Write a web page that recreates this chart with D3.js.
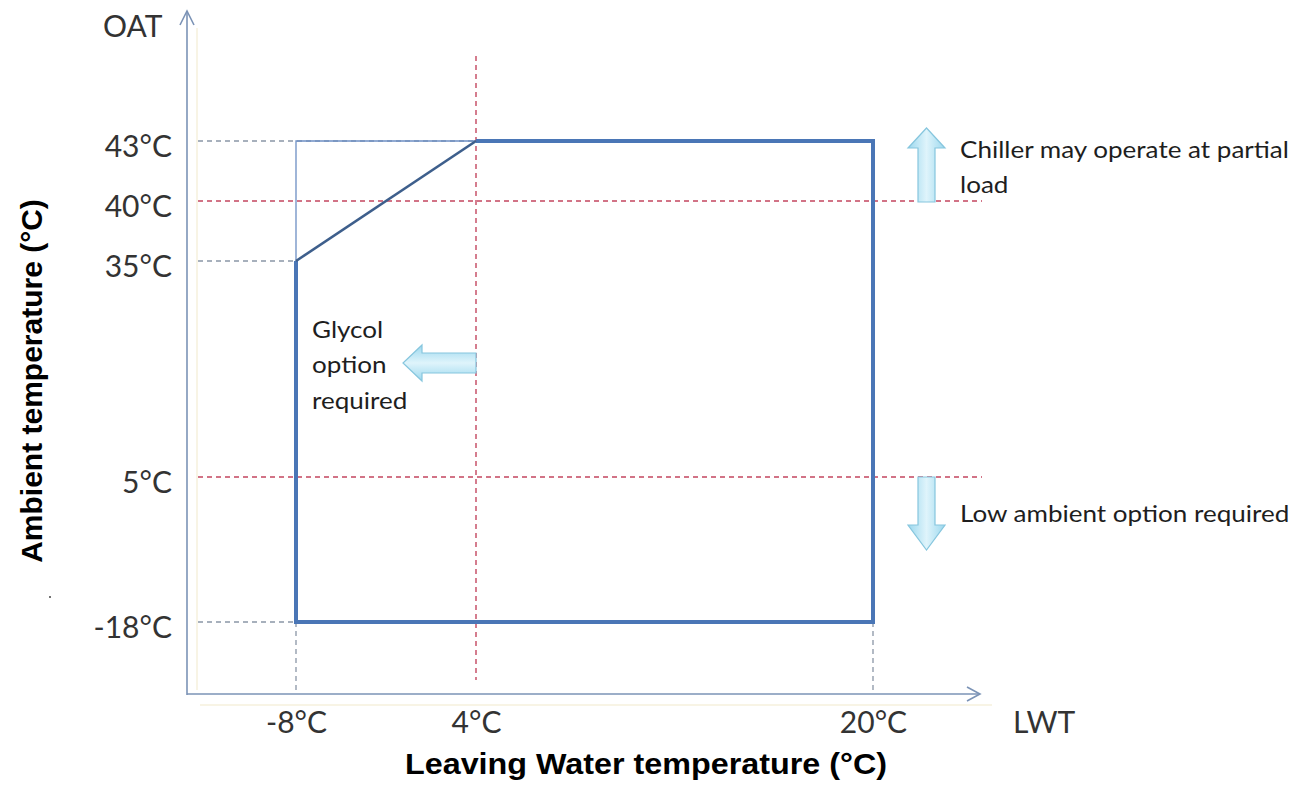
<!DOCTYPE html>
<html><head><meta charset="utf-8">
<script src="https://cdn.jsdelivr.net/npm/d3@7"></script>
<style>body{margin:0;background:#fff} svg{display:block}</style>
</head><body><svg id="c" width="1311" height="793"></svg>
<script>
// ---- data ----
const xTicks = [-8, 4, 20];
const yTicks = [-18, 5, 35, 40, 43];
const envelope = [[4, 43], [20, 43], [20, -18], [-8, -18], [-8, 35]];
const diagonal = [[-8, 35], [4, 43]];
const thinEdge = [[-8, 35], [-8, 43], [4, 43]];
const redH = [40, 5];
const redV = [4];
const greyH = [[43, 4], [35, -8], [-18, -8]];
const greyV = [-8, 20];
const chillerText = ["Chiller may operate at partial", "load"];
const glycolText = ["Glycol", "option", "required"];
const lowText = ["Low ambient option required"];
const xTitle = "Leaving Water temperature (°C)";
const yTitle = "Ambient temperature (°C)";

// ---- scales ----
const x = d3.scaleLinear().domain(xTicks).range([296, 476, 873]);
const y = d3.scaleLinear().domain(yTicks).range([622, 477, 261, 201, 141]);

const svg = d3.select("#c");
const axisCol = "#7b93b6";
const greyCol = "#8a96a6";
const redCol = "#c4465f";
const blue = "#4a76b6";

// gradients
const defs = svg.append("defs");
const gV = defs.append("linearGradient").attr("id", "gv").attr("x1", 0).attr("x2", 1).attr("y1", 0).attr("y2", 0);
gV.append("stop").attr("offset", "0%").attr("stop-color", "#9cd8ee");
gV.append("stop").attr("offset", "50%").attr("stop-color", "#dff4fb");
gV.append("stop").attr("offset", "100%").attr("stop-color", "#9cd8ee");
const gH = defs.append("linearGradient").attr("id", "gh").attr("x1", 0).attr("x2", 0).attr("y1", 0).attr("y2", 1);
gH.append("stop").attr("offset", "0%").attr("stop-color", "#9cd8ee");
gH.append("stop").attr("offset", "50%").attr("stop-color", "#dff4fb");
gH.append("stop").attr("offset", "100%").attr("stop-color", "#9cd8ee");

// faint image guides
svg.append("line").attr("x1", 197).attr("x2", 197).attr("y1", 28).attr("y2", 690).attr("stroke", "#f6f0dc").attr("stroke-width", 1.5);
svg.append("line").attr("x1", 200).attr("x2", 992).attr("y1", 705).attr("y2", 705).attr("stroke", "#f6f0dc").attr("stroke-width", 1.5);

// axes lines with arrowheads
const x0 = 187, yAxisY = 694;
svg.append("line").attr("x1", x0).attr("x2", x0).attr("y1", yAxisY + 1).attr("y2", 11).attr("stroke", axisCol).attr("stroke-width", 1.6);
svg.append("path").attr("d", `M${x0 - 7},${25} L${x0},${11} L${x0 + 7},${25}`).attr("fill", "none").attr("stroke", axisCol).attr("stroke-width", 1.6);
svg.append("line").attr("x1", x0).attr("x2", 980).attr("y1", yAxisY).attr("y2", yAxisY).attr("stroke", axisCol).attr("stroke-width", 1.6);
svg.append("path").attr("d", `M967,${yAxisY - 7} L980,${yAxisY} L967,${yAxisY + 7}`).attr("fill", "none").attr("stroke", axisCol).attr("stroke-width", 1.6);

// grey dashed guides
svg.selectAll(".gh").data(greyH).enter().append("line")
  .attr("x1", 198).attr("x2", d => x(d[1])).attr("y1", d => y(d[0])).attr("y2", d => y(d[0]))
  .attr("stroke", greyCol).attr("stroke-width", 1.3).attr("stroke-dasharray", "5,4");
svg.selectAll(".gv").data(greyV).enter().append("line")
  .attr("x1", d => x(d)).attr("x2", d => x(d)).attr("y1", y(-18)).attr("y2", yAxisY)
  .attr("stroke", greyCol).attr("stroke-width", 1.3).attr("stroke-dasharray", "5,4");

// thin edge
const line = d3.line().x(d => x(d[0])).y(d => y(d[1]));
svg.append("path").attr("d", line(thinEdge)).attr("fill", "none").attr("stroke", "#6d8fc4").attr("stroke-width", 1.3);

// red dashed lines
svg.selectAll(".rh").data(redH).enter().append("line")
  .attr("x1", 198).attr("x2", 982).attr("y1", d => y(d)).attr("y2", d => y(d))
  .attr("stroke", redCol).attr("stroke-width", 1.4).attr("stroke-dasharray", "5,4");
svg.selectAll(".rv").data(redV).enter().append("line")
  .attr("x1", d => x(d)).attr("x2", d => x(d)).attr("y1", 56).attr("y2", 680)
  .attr("stroke", redCol).attr("stroke-width", 1.4).attr("stroke-dasharray", "5,4");

// envelope
svg.append("path").attr("d", line(envelope)).attr("fill", "none").attr("stroke", blue).attr("stroke-width", 4).attr("stroke-linejoin", "miter");
svg.append("path").attr("d", line(diagonal)).attr("fill", "none").attr("stroke", "#3e5f8c").attr("stroke-width", 2.6);

// arrows
const arrowStroke = "#86c6de";
{
  const cx = 926.5, base = y(40) + 1, tip = 128, hb = 148;
  svg.append("path").attr("d", `M${cx - 8.5},${base} L${cx - 8.5},${hb} L${cx - 18.5},${hb} L${cx},${tip} L${cx + 18.5},${hb} L${cx + 8.5},${hb} L${cx + 8.5},${base} Z`)
    .attr("fill", "url(#gv)").attr("stroke", arrowStroke).attr("stroke-width", 1.2);
}
{
  const cx = 926.5, top = y(5), hb = 525, tip = 550;
  svg.append("path").attr("d", `M${cx - 8.5},${top} L${cx - 8.5},${hb} L${cx - 18.5},${hb} L${cx},${tip} L${cx + 18.5},${hb} L${cx + 8.5},${hb} L${cx + 8.5},${top} Z`)
    .attr("fill", "url(#gv)").attr("stroke", arrowStroke).attr("stroke-width", 1.2);
}
{
  const r = x(4), cy = 363, hb = 422, tip = 403;
  svg.append("path").attr("d", `M${r},${cy - 10} L${hb},${cy - 10} L${hb},${cy - 18} L${tip},${cy} L${hb},${cy + 18} L${hb},${cy + 10} L${r},${cy + 10} Z`)
    .attr("fill", "url(#gh)").attr("stroke", arrowStroke).attr("stroke-width", 1.2);
}

// tick labels
const tickFont = "Lato, 'Open Sans', sans-serif";
const yAx = svg.append("g").attr("transform", "translate(172,0)")
  .call(d3.axisLeft(y).tickValues(yTicks).tickSize(0).tickPadding(0).tickFormat(d => d + "°C"));
yAx.select(".domain").remove();
yAx.selectAll("text").attr("x", 0).attr("dy", "0.53em").attr("font-family", tickFont).attr("font-size", 30).attr("fill", "#333");

const xAx = svg.append("g").attr("transform", "translate(0,733)")
  .call(d3.axisBottom(x).tickValues(xTicks).tickSize(0).tickPadding(0).tickFormat(d => d + "°C"));
xAx.select(".domain").remove();
xAx.selectAll("text").attr("y", 0).attr("dy", 0).attr("font-family", tickFont).attr("font-size", 30).attr("fill", "#333");

svg.append("text").attr("x", 103).attr("y", 37).text("OAT").attr("font-family", tickFont).attr("font-size", 30).attr("fill", "#333");
svg.append("text").attr("x", 1013).attr("y", 733).text("LWT").attr("font-family", tickFont).attr("font-size", 30).attr("fill", "#333");

// annotations
const ann = (lines, x0, y0, lh) => {
  const g = svg.append("g").attr("transform", `translate(${x0},${y0}) scale(1.085,1)`);
  const t = g.append("text").attr("font-family", "Lato, sans-serif").attr("font-size", 24).attr("fill", "#1e1e1e");
  lines.forEach((s, i) => t.append("tspan").attr("x", 0).attr("y", i * lh).text(s));
};
ann(chillerText, 960, 158, 35);
ann(glycolText, 312, 338, 35.5);
ann(lowText, 960, 522, 35);

// axis titles
svg.append("text").attr("x", 646).attr("y", 774).attr("text-anchor", "middle")
  .attr("font-family", "'Liberation Sans', Arial, sans-serif").attr("font-weight", "bold").attr("font-size", 30)
  .attr("textLength", 482).attr("lengthAdjust", "spacingAndGlyphs").text(xTitle);
svg.append("text").attr("transform", "translate(42,381) rotate(-90)").attr("text-anchor", "middle")
  .attr("font-family", "'Liberation Sans', Arial, sans-serif").attr("font-weight", "bold").attr("font-size", 30)
  .text(yTitle);
svg.append("circle").attr("cx", 50).attr("cy", 597).attr("r", 1).attr("fill", "#444");
</script></body></html>
